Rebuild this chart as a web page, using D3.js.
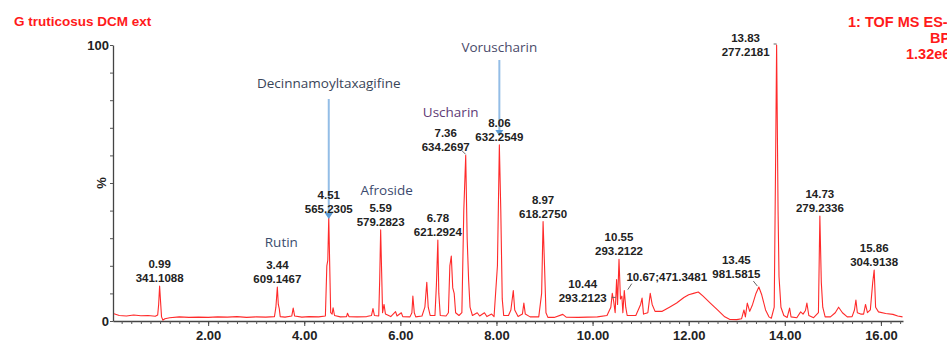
<!DOCTYPE html>
<html>
<head>
<meta charset="utf-8">
<script src="https://cdn.jsdelivr.net/npm/d3@7"></script>
<style>
  html, body { margin: 0; padding: 0; background: #fff; overflow: hidden; }
  svg { display: block; }
</style>
</head>
<body>
<div id="grafico"></div>
<script>
// Base peak intensity trace: [retention time (min), relative intensity (%)]
const trace = [
  [0.04, 2.6], [0.15, 2.0], [0.3, 1.8], [0.45, 2.2], [0.6, 1.9], [0.75, 2.0], [0.9, 1.7], [0.95, 2.2],
  [0.97, 6], [0.99, 12.7], [1.01, 7], [1.03, 1.5], [1.06, 0.3], [1.1, 0.8], [1.2, 1.2], [1.4, 1.5],
  [1.6, 1.3], [1.8, 1.4], [2.0, 1.3], [2.2, 1.5], [2.4, 1.4], [2.6, 1.6], [2.8, 1.3], [3.0, 1.5],
  [3.2, 1.4], [3.38, 1.6], [3.41, 5], [3.44, 12.3], [3.46, 6], [3.48, 4.5], [3.5, 1.6], [3.6, 1.4],
  [3.74, 1.8], [3.77, 4.7], [3.8, 1.8], [3.95, 1.4], [4.1, 1.6], [4.3, 1.5], [4.44, 1.8], [4.47, 20],
  [4.49, 22], [4.51, 37.7], [4.53, 20], [4.55, 3], [4.58, 2.5], [4.6, 4.8], [4.63, 2], [4.75, 1.5],
  [4.88, 1.6], [4.9, 2.8], [4.93, 1.6], [5.1, 1.5], [5.3, 1.6], [5.4, 2], [5.43, 4.5], [5.46, 2],
  [5.55, 1.8], [5.57, 15], [5.59, 33], [5.61, 18], [5.63, 3], [5.66, 6], [5.69, 2.5], [5.8, 1.6],
  [5.9, 3.4], [5.93, 1.8], [6.02, 3], [6.05, 1.6], [6.2, 1.5], [6.24, 3], [6.26, 9], [6.29, 3],
  [6.32, 1.5], [6.45, 1.8], [6.51, 5], [6.55, 14], [6.58, 5], [6.62, 2], [6.72, 2], [6.75, 13],
  [6.78, 29.3], [6.8, 10], [6.83, 2], [6.95, 1.8], [7.0, 3], [7.03, 20], [7.06, 23.5], [7.09, 12],
  [7.12, 10], [7.15, 3], [7.22, 2], [7.28, 3], [7.32, 40], [7.36, 60], [7.39, 30], [7.42, 15],
  [7.45, 5], [7.5, 2], [7.6, 3], [7.65, 1.8], [7.75, 3], [7.8, 1.6], [7.9, 2.5], [7.95, 1.6],
  [8.02, 20], [8.06, 63.8], [8.09, 40], [8.12, 8], [8.15, 2], [8.25, 2], [8.3, 4], [8.35, 11],
  [8.38, 4], [8.45, 1.6], [8.54, 2.5], [8.57, 6.5], [8.6, 2.5], [8.7, 1.5], [8.88, 1.5], [8.94, 10],
  [8.97, 36], [9.0, 20], [9.03, 3], [9.07, 1.3], [9.2, 1.3], [9.38, 2.4], [9.45, 1.4], [9.7, 1.3],
  [9.9, 1.4], [10.1, 1.5], [10.3, 2], [10.38, 5], [10.41, 10], [10.44, 7], [10.47, 3], [10.5, 15],
  [10.52, 6], [10.55, 22.4], [10.58, 8], [10.61, 9], [10.63, 3], [10.66, 11], [10.69, 5], [10.72, 2],
  [10.9, 2], [11.0, 6], [11.03, 8.3], [11.06, 2.5], [11.15, 3], [11.2, 10], [11.24, 6], [11.3, 3.5],
  [11.45, 3.5], [11.6, 5], [11.75, 6.5], [11.9, 8.5], [12.0, 9.5], [12.1, 10], [12.2, 10.5], [12.3, 9],
  [12.45, 6.5], [12.6, 4], [12.75, 1.5], [12.85, 0.6], [13.0, 0.5], [13.1, 0.8], [13.15, 4], [13.18, 1.5],
  [13.22, 6.5], [13.27, 3.5], [13.33, 6], [13.4, 10], [13.46, 12.3], [13.52, 9.5], [13.6, 4], [13.67, 1.5],
  [13.72, 1], [13.78, 5], [13.81, 60], [13.83, 100], [13.86, 40], [13.88, 16], [13.92, 5], [13.98, 2],
  [14.05, 1.3], [14.1, 4.7], [14.13, 1.5], [14.25, 1.2], [14.33, 3.3], [14.38, 2.5], [14.43, 3.8], [14.46, 6.5],
  [14.5, 2], [14.6, 1.2], [14.7, 3], [14.73, 38], [14.76, 14], [14.79, 5], [14.84, 1.5], [14.95, 1.5],
  [15.05, 3], [15.12, 5], [15.2, 3], [15.3, 1.5], [15.4, 1.6], [15.45, 4], [15.48, 7.6], [15.51, 3],
  [15.58, 2.5], [15.64, 2.5], [15.68, 6], [15.72, 3], [15.78, 4], [15.83, 14], [15.86, 18.5], [15.89, 5],
  [15.95, 3.3], [16.1, 2.7], [16.25, 2.4], [16.35, 1.8], [16.45, 1.5]
];

// Annotated peaks: retention time, m/z, intensity at apex (%)
const peakRT = ["0.99", "3.44", "4.51", "5.59", "6.78", "7.36", "8.06", "8.97", "10.44", "10.55", "13.45", "13.83", "14.73", "15.86"];
const peakMZ = ["341.1088", "609.1467", "565.2305", "579.2823", "621.2924", "634.2697", "632.2549", "618.2750", "293.2123", "293.2122", "981.5815", "277.2181", "279.2336", "304.9138"];
const peakPct = [12.7, 12.3, 37.7, 33, 29.3, 60, 63.8, 36, 10, 22.4, 12.3, 100, 38, 18.5];
const singleLineLabel = { rt: 10.67, text: "10.67;471.3481", pct: 11 };

// Compound names
const compounds = ["Rutin", "Decinnamoyltaxagifine", "Afroside", "Uscharin", "Voruscharin"];
const compoundRT = [3.44, 4.51, 5.59, 7.36, 8.06];

const xTickValues = [2, 4, 6, 8, 10, 12, 14, 16];
const yTickLabels = [0, 100];

const width = 947, height = 342;

// label offsets (pixels) from peak apex, where the label is not centred
const labelShift = { "7.36": -20, "10.44": -31, "13.45": -22, "13.83": -31 };
const labelLift = { "10.44": 13, "13.45": -5, "13.83": 15 };
const compoundPos = {
  "Rutin": [4, 247], "Decinnamoyltaxagifine": [0, 88], "Afroside": [6, 195],
  "Uscharin": [-15, 117], "Voruscharin": [0, 52]
};
const compoundColor = {
  "Rutin": "#3b4d6e", "Decinnamoyltaxagifine": "#3a4558", "Afroside": "#3b4a6e",
  "Uscharin": "#5e3b76", "Voruscharin": "#4a4a6a"
};

const svg = d3.select('#grafico').append('svg')
  .attr('width', width).attr('height', height);

const x = d3.scaleLinear().domain([0.02, 16.46]).range([113, 903]);
const y = d3.scaleLinear().domain([0, 100]).range([321, 45]);

// titles
svg.append('text')
  .attr('x', 14).attr('y', 26)
  .style('font-family', 'Liberation Sans, Arial, sans-serif')
  .style('font-size', '13.5px').style('font-weight', 'bold')
  .attr('fill', '#ff1a1a')
  .text('G truticosus DCM ext');

const rightTitle = [["1: TOF MS ES-", 848, 27], ["BPI", 930, 43], ["1.32e6", 906, 59]];
svg.selectAll('.rtitle').data(rightTitle).enter().append('text')
  .attr('class', 'rtitle')
  .attr('x', d => d[1]).attr('y', d => d[2])
  .style('font-family', 'Liberation Sans, Arial, sans-serif')
  .style('font-size', '14.5px').style('font-weight', 'bold')
  .attr('fill', '#ff1a1a')
  .text(d => d[0]);

// axes
const axisFont = g => g.selectAll('text')
  .style('font-family', 'Liberation Sans, Arial, sans-serif')
  .style('font-size', '13px').style('font-weight', 'bold').attr('fill', '#222');

svg.append('g')
  .attr('transform', `translate(0,${y(0)})`)
  .call(d3.axisBottom(x).tickValues(d3.range(0.2, 16.41, 0.2)).tickSize(3).tickSizeOuter(0).tickFormat(''))
  .call(g => g.select('.domain').attr('stroke', '#444').attr('stroke-width', 1.3))
  .call(g => g.selectAll('line').attr('stroke', '#555'));

svg.append('g')
  .attr('transform', `translate(0,${y(0)})`)
  .call(d3.axisBottom(x).tickValues(xTickValues).tickSize(5).tickSizeOuter(0).tickFormat(d3.format('.2f')))
  .call(g => g.select('.domain').remove())
  .call(g => g.selectAll('line').attr('stroke', '#444'))
  .call(axisFont)
  .call(g => g.selectAll('text').attr('y', 10));

svg.append('g')
  .attr('transform', `translate(${x(0.02)},0)`)
  .call(d3.axisLeft(y).tickValues(d3.range(0, 101, 10)).tickSize(3).tickSizeOuter(0)
    .tickFormat(d => yTickLabels.includes(d) ? d : ''))
  .call(g => g.select('.domain').attr('stroke', '#444').attr('stroke-width', 1.3))
  .call(g => g.selectAll('line').attr('stroke', '#555'))
  .call(axisFont)
  .call(g => g.selectAll('text').attr('x', -4));

svg.append('text')
  .attr('transform', `translate(106,${y(50)}) rotate(-90)`)
  .attr('text-anchor', 'middle')
  .style('font-family', 'Liberation Sans, Arial, sans-serif')
  .style('font-size', '13px').style('font-weight', 'bold').attr('fill', '#222')
  .text('%');

// chromatogram trace
const line = d3.line().x(d => x(d[0])).y(d => y(d[1]));
svg.append('path')
  .datum(trace)
  .attr('d', line)
  .attr('fill', 'none')
  .attr('stroke', '#ff2a2a')
  .attr('stroke-width', 1.1)
  .attr('stroke-linejoin', 'round');

// blue arrows for identified compounds
const arrows = [["Decinnamoyltaxagifine", 99, 4.51], ["Voruscharin", 60, 8.06]];
const arrowEnd = { "Decinnamoyltaxagifine": y(37.7) + 2, "Voruscharin": y(63.8) - 9 };
arrows.forEach(a => {
  const ax = x(a[2]);
  const y2 = arrowEnd[a[0]];
  svg.append('line')
    .attr('x1', ax).attr('x2', ax).attr('y1', a[1]).attr('y2', y2 - 4)
    .attr('stroke', '#93bde6').attr('stroke-width', 2);
  svg.append('path')
    .attr('d', `M${ax - 4},${y2 - 6}L${ax + 4},${y2 - 6}L${ax},${y2}Z`)
    .attr('fill', '#5b9bd5');
});

// peak labels
const labelFont = sel => sel
  .style('font-family', 'Liberation Sans, Arial, sans-serif')
  .style('font-size', '11.5px').style('font-weight', 'bold')
  .attr('fill', '#222').attr('text-anchor', 'middle');

peakRT.forEach((rt, i) => {
  const px = x(+rt) + (labelShift[rt] || 0);
  const base = y(peakPct[i]) - 4 + (labelLift[rt] || 0);
  svg.append('text').attr('x', px).attr('y', base - 14).call(labelFont).text(rt);
  svg.append('text').attr('x', px).attr('y', base).call(labelFont).text(peakMZ[i]);
});
svg.append('text')
  .attr('x', x(singleLineLabel.rt) + 42).attr('y', y(singleLineLabel.pct) - 10)
  .call(labelFont).text(singleLineLabel.text);

// small grey leader marks
const leaders = [
  [x(7.36) - 4, y(60) - 5, x(7.36), y(60) - 1],
  [x(13.45) - 5, y(12.3) - 6, x(13.45) - 1, y(12.3) - 1],
  [x(10.44) - 2, y(10) + 4, x(10.44) + 2, y(10) + 4],
  [x(10.67) + 3, y(11) - 1, x(10.67) + 7, y(11) - 7],
  [x(13.83) - 3, y(100) - 1, x(13.83), y(100) - 1]
];
svg.selectAll('.leader').data(leaders).enter().append('line')
  .attr('x1', d => d[0]).attr('y1', d => d[1]).attr('x2', d => d[2]).attr('y2', d => d[3])
  .attr('stroke', '#666').attr('stroke-width', 1);

// compound names
compounds.forEach((name, i) => {
  svg.append('text')
    .attr('x', x(compoundRT[i]) + compoundPos[name][0])
    .attr('y', compoundPos[name][1])
    .attr('text-anchor', 'middle')
    .style('font-family', 'Open Sans, sans-serif')
    .style('font-size', '13.5px')
    .attr('fill', compoundColor[name])
    .text(name);
});
</script>
</body>
</html>
